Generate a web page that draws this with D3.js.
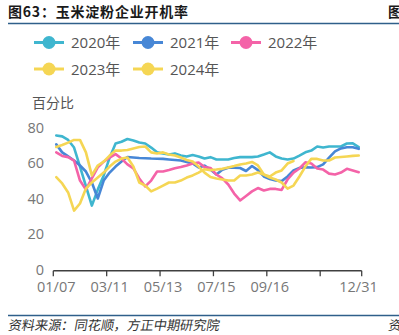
<!DOCTYPE html>
<html>
<head>
<meta charset="utf-8">
<script src="https://cdn.jsdelivr.net/npm/d3@7"></script>
<style>
  html, body { margin: 0; padding: 0; background: #fff; }
  svg { display: block; font-family: "Open Sans", "Noto Sans CJK SC", sans-serif; }
</style>
</head>
<body>
<svg id="chart" width="399" height="335"></svg>
<script>
// Weekly categories (52 weeks)
const weeks = [
  "01/07","01/14","01/21","01/28","02/04","02/11","02/18","02/25","03/04","03/11",
  "03/18","03/25","04/01","04/08","04/15","04/22","04/29","05/06","05/13","05/20",
  "05/27","06/03","06/10","06/17","06/24","07/01","07/08","07/15","07/22","07/29",
  "08/05","08/12","08/19","08/26","09/02","09/09","09/16","09/23","09/30","10/07",
  "10/14","10/21","10/28","11/04","11/11","11/18","11/25","12/02","12/09","12/16",
  "12/23","12/31"
];
const tickLabels = ["01/07","03/11","05/13","07/15","09/16","12/31"];
const yTicks = [0, 20, 40, 60, 80];

// Operating rate (%) by year
const y2020 = [75.5,75,73,68.7,58,47,36,45,53,63,71,72,73.5,72.7,71.5,71,68.7,66,65.4,64.8,
  65.4,64.2,63.7,64.5,63.7,62.5,63.3,62,62,62,62.8,63.3,63.3,63.3,63.7,64.8,66,63.7,62.5,62,
  62.5,64.2,66,67,69.3,68.7,69.3,69.3,69.3,71,71.1,69];
const y2021 = [70.5,66,63.7,61.4,58.6,55.2,49,40,50.1,54.6,58,60.8,63.4,63.1,62.8,62.7,62.5,62.4,62.3,62,
  61.7,61.4,60.6,59.7,57.5,58.5,56.3,53.5,56.2,57.3,57.3,57.2,55.5,58.3,56,52.4,51,50.1,49.8,52.4,
  55.8,57.2,57.6,57.5,57.7,59.2,63,66.5,68.2,68.9,68.9,68];
const y2022 = [66,64,63.3,61.4,50.1,45,51.3,57.5,60.8,63,65,62.5,59.2,57,51.3,46.8,50.1,55.2,55.2,56,
  57,57.7,58.6,59.7,60.3,57.7,57.2,53.5,51.3,47.9,42.8,38.9,41.4,44,45.9,44.5,45.4,45.4,44.8,50.7,
  54.6,56.9,60.4,59.7,56.9,56.3,54,53.5,54.6,56.7,55.8,54.8];
const y2023 = [69,70.1,71.5,73,73,66,53,58.6,60.8,64.2,67,67,67.3,68.2,69,69.3,66,65.4,66,64.8,
  64.2,63.1,61.7,60.8,58,54.6,52.1,51.3,50.7,50.1,50.1,53,53,53.5,54.6,53.5,51.8,50.7,49,45.6,
  47.3,52.4,58,62.3,62.3,61.4,61.4,63.1,63.4,63.7,64,64.2];
const y2024 = [52,48.5,43.4,33.2,37.2,45.6,49,51.8,54.6,58,60.8,62.5,63.1,58,49,47.3,44,45.6,47.3,49,
  49,50.1,51.8,53,54.6,56.5,56,56.3,56.7,57.5,58.3,59.2,59.7,60.6,58.6,53.5,52.4,54.6,55.8,59.7,
  61.1];

const seriesNames = ["2020年","2021年","2022年","2023年","2024年"];
const seriesData = [y2020, y2021, y2022, y2023, y2024];
const colors = ["#3fb6cf", "#4787d6", "#f463a8", "#f5d654", "#f5d654"];

const svg = d3.select("#chart");
const cjk = "'Noto Sans CJK SC', sans-serif";

// Header
svg.append("text").attr("x", 8).attr("y", 17)
  .attr("font-size", 14).attr("font-weight", "bold").attr("fill", "#1a1a1a")
  .attr("letter-spacing", 0.8).attr("font-family", cjk)
  .text("图63：玉米淀粉企业开机率");
svg.append("text").attr("x", 388).attr("y", 17)
  .attr("font-size", 14).attr("font-weight", "bold").attr("fill", "#1a1a1a")
  .attr("font-family", cjk)
  .text("图");
svg.append("line").attr("x1", 8).attr("x2", 399).attr("y1", 23.5).attr("y2", 23.5)
  .attr("stroke", "#2f5f8a").attr("stroke-width", 1.6);

// Footer
svg.append("line").attr("x1", 8).attr("x2", 399).attr("y1", 315.5).attr("y2", 315.5)
  .attr("stroke", "#2f5f8a").attr("stroke-width", 1.6);
svg.append("text").attr("x", 8).attr("y", 330)
  .attr("font-size", 13.2).attr("fill", "#333")
  .attr("font-family", cjk)
  .attr("transform", "skewX(-10) translate(58,0)")
  .text("资料来源：同花顺，方正中期研究院");
svg.append("text").attr("x", 388).attr("y", 330)
  .attr("font-size", 13.2).attr("fill", "#333")
  .attr("font-family", cjk)
  .attr("transform", "skewX(-10) translate(58,0)")
  .text("资");

// Scales
const x = d3.scaleBand().domain(weeks).range([53.3, 361.7]).paddingInner(0).paddingOuter(0);
const y = d3.scaleLinear().domain([0, 80]).range([269.5, 127.5]);
const cx = d => x(d) + x.bandwidth() / 2;

// Y axis
svg.append("text").attr("x", 32).attr("y", 108)
  .attr("font-size", 14).attr("fill", "#555")
  .attr("font-family", cjk)
  .text("百分比");
const yAxis = d3.axisLeft(y).tickValues(yTicks).tickSize(0).tickPadding(0);
const gy = svg.append("g").attr("transform", "translate(44,0)").call(yAxis);
gy.select(".domain").remove();
gy.selectAll("text").attr("font-size", 14.5).attr("fill", "#777")
  .attr("font-family", "'Open Sans', sans-serif");

// X axis
const axisY = 270.7;
const gx = svg.append("g").attr("transform", `translate(0,${axisY})`);
gx.append("line").attr("x1", 53.3).attr("x2", 361.7).attr("stroke", "#404040").attr("stroke-width", 1.5);
const tickIdx = [0, 9, 18, 27, 36, 45];
tickIdx.forEach(i => {
  gx.append("line").attr("x1", x(weeks[i])).attr("x2", x(weeks[i]))
    .attr("y1", 0).attr("y2", 5.5).attr("stroke", "#404040").attr("stroke-width", 1.3);
});
gx.append("line").attr("x1", 361.7).attr("x2", 361.7).attr("y1", 0).attr("y2", 5.5)
  .attr("stroke", "#404040").attr("stroke-width", 1.3);
tickLabels.forEach(lbl => {
  const px = lbl === "12/31" ? 358.5 : cx(lbl);
  gx.append("text").attr("x", px).attr("y", 21)
    .attr("text-anchor", "middle").attr("font-size", 14.5).attr("fill", "#777")
    .attr("font-family", "'Open Sans', sans-serif").text(lbl);
});

// Lines
const line = d3.line().x((d, i) => cx(weeks[i])).y(d => y(d));
seriesData.forEach((s, k) => {
  svg.append("path").datum(s).attr("d", line)
    .attr("fill", "none").attr("stroke", colors[k]).attr("stroke-width", 2.6)
    .attr("stroke-linejoin", "round").attr("stroke-linecap", "round");
});

// Legend
const legendPos = [[34, 42.5], [133, 42.5], [231, 42.5], [34, 69], [133, 69]];
seriesNames.forEach((name, k) => {
  const [lx, ly] = legendPos[k];
  const g = svg.append("g").attr("transform", `translate(${lx},${ly})`);
  g.append("line").attr("x1", 0).attr("x2", 30).attr("stroke", colors[k]).attr("stroke-width", 3);
  g.append("circle").attr("cx", 15).attr("r", 6.5).attr("fill", colors[k]);
  g.append("text").attr("x", 37).attr("y", 5.5).attr("font-size", 15).attr("fill", "#555")
    .attr("font-family", "'Open Sans', 'Noto Sans CJK SC', sans-serif").text(name);
});
</script>
</body>
</html>
